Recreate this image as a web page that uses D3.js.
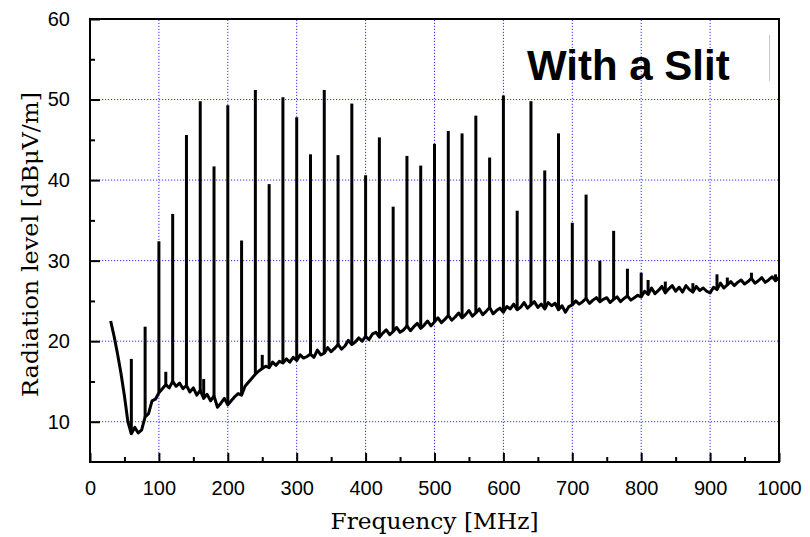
<!DOCTYPE html>
<html>
<head>
<meta charset="utf-8">
<script src="https://cdn.jsdelivr.net/npm/d3@7"></script>
<style>
  body { margin: 0; background: #fff; }
  svg { display: block; }
</style>
</head>
<body>
<div class="chartwrap"></div>
<script>
var width = 810, height = 537;
var margin = {top: 19, left: 90, right: 31, bottom: 75};

// noise floor, sampled every 5 MHz from 30 to 1000 MHz
var baseStart = 30, baseStep = 5;
var baseLevel = [
    22.5, 20.6, 18.4, 16.0, 13.2, 10.0, 8.5, 9.3, 8.6, 9.0, 10.6, 11.0, 12.6, 12.8,
    13.6, 14.1, 14.6, 14.2, 15.0, 14.4, 14.8, 14.1, 14.5, 13.7, 14.2, 13.3, 13.9, 12.9, 13.4, 12.6, 13.2, 11.8, 12.3, 12.9,
    12.1, 12.6, 13.1, 13.5, 13.3, 14.4, 14.9, 15.4, 15.9, 16.3, 16.6, 16.9, 16.7, 17.4, 17.0, 17.5, 17.3, 17.8, 17.4, 18.0,
    17.6, 18.3, 17.9, 18.1, 18.4, 18.0, 18.9, 18.3, 18.5, 19.2, 18.7, 19.1, 19.6, 19.0, 19.4, 20.1, 19.6, 19.9, 20.4, 20.0,
    20.6, 20.2, 20.9, 21.1, 20.5, 21.0, 21.4, 20.8, 21.2, 21.7, 21.1, 21.4, 21.9, 21.3, 21.8, 22.2, 21.6, 22.0, 22.5, 21.9,
    22.4, 22.9, 22.3, 22.7, 23.2, 22.6, 23.0, 23.5, 22.9, 23.3, 23.8, 23.1, 23.5, 24.0, 23.3, 23.7, 24.2, 23.4, 23.8, 24.1,
    23.6, 24.3, 24.0, 24.6, 23.9, 24.2, 24.8, 24.1, 24.5, 24.9, 24.2, 24.6, 24.0, 24.8, 24.4, 24.7, 23.9, 24.4, 23.6, 24.3,
    24.5, 25.0, 24.6, 24.9, 25.3, 24.7, 25.1, 25.4, 24.9, 25.2, 25.4, 24.8, 25.2, 25.5, 24.9, 25.3, 25.6, 25.1, 25.4, 25.7,
    25.5, 26.2, 25.8, 26.6, 25.9, 26.3, 26.8, 26.0, 26.5, 26.9, 26.2, 26.7, 26.1, 26.9, 26.4, 26.1, 26.8, 26.3, 26.6, 26.2,
    26.0, 26.7, 26.4, 27.2, 26.6, 27.0, 27.4, 26.9, 27.3, 27.6, 27.1, 27.4, 27.8, 27.2, 27.5, 27.9, 27.3, 27.6, 28.0, 27.5,
    27.9
];

// spikes (harmonics every 20 MHz plus a few small spurs)
var peakFreq = [60, 80, 100, 120, 140, 160, 180, 200, 220, 240, 260, 280, 300, 320, 340, 360, 380, 400,
    420, 440, 460, 480, 500, 520, 540, 560, 580, 600, 620, 640, 660, 680, 700, 720, 740, 760, 780, 800,
    110, 165, 250, 810, 835, 875, 910, 925, 960, 995];
var peakLevel = [17.8, 21.8, 32.4, 35.8, 45.6, 49.8, 41.7, 49.3, 32.5, 51.2, 39.5, 50.3, 47.8, 43.2, 51.2, 43.1, 49.5, 40.6,
    45.3, 36.7, 43.0, 41.8, 44.5, 46.1, 45.8, 48.0, 42.8, 50.5, 36.2, 49.8, 41.2, 45.8, 34.7, 38.2, 30.0, 33.7, 29.0, 28.5,
    16.2, 15.3, 18.3, 27.6, 27.4, 27.2, 28.3, 27.9, 28.5, 28.3];

var xTicks = [0, 100, 200, 300, 400, 500, 600, 700, 800, 900, 1000];
var yTicks = [10, 20, 30, 40, 50, 60];

var pw = width - margin.left - margin.right,
    ph = height - margin.top - margin.bottom;

var svg = d3.select(".chartwrap").append("svg")
    .attr("width", width)
    .attr("height", height);

var x = d3.scaleLinear()
    .domain([0, 1000])
    .range([margin.left, margin.left + pw]);

var y = d3.scaleLinear()
    .domain([5, 60])
    .range([margin.top + ph, margin.top]);

var trace = baseLevel.map(function(d, i) {
    return {f: baseStart + i*baseStep, v: d};
});

function baseAt(f) {
    return baseLevel[Math.round((f - baseStart)/baseStep)];
}

// grid
var grid = svg.append("g").attr("class", "grid");
grid.selectAll(".gx")
    .data(xTicks.slice(1, -1))
    .enter().append("line")
    .attr("x1", function(d) { return x(d); })
    .attr("x2", function(d) { return x(d); })
    .attr("y1", y(5))
    .attr("y2", y(60))
    .attr("stroke", "#2f2fff")
    .attr("stroke-width", 1)
    .attr("stroke-dasharray", "1.2,1.8");
grid.selectAll(".gy")
    .data(yTicks.slice(0, -1))
    .enter().append("line")
    .attr("y1", function(d) { return y(d); })
    .attr("y2", function(d) { return y(d); })
    .attr("x1", x(0))
    .attr("x2", x(1000))
    .attr("stroke", "#2f2fff")
    .attr("stroke-width", 1)
    .attr("stroke-dasharray", "1.2,1.8");

// axes, ticks pointing inward
var xAxis = d3.axisBottom(x).tickValues(xTicks).tickSize(-9).tickPadding(19).tickFormat(d3.format("d"));
var xMinor = d3.axisBottom(x).tickValues(d3.range(50, 1000, 100)).tickSize(-5).tickFormat("");
var yAxis = d3.axisLeft(y).tickValues(yTicks).tickSize(-10).tickPadding(20).tickFormat(d3.format("d"));
var yMinor = d3.axisLeft(y).tickValues(d3.range(15, 60, 10)).tickSize(-5).tickFormat("");

function customAxis(g) {
    g.select(".domain").remove();
    g.selectAll(".tick line").attr("stroke", "#000").attr("stroke-width", 2);
    g.selectAll(".tick text")
        .attr("fill", "#000")
        .style("font-family", "'Liberation Sans', Arial, sans-serif")
        .style("font-size", "20px");
}

svg.append("g")
    .attr("transform", "translate(0," + y(5) + ")")
    .call(xAxis).call(customAxis);
svg.append("g")
    .attr("transform", "translate(0," + y(5) + ")")
    .call(xMinor).call(customAxis);
svg.append("g")
    .attr("transform", "translate(" + x(0) + ",0)")
    .call(yAxis).call(customAxis);
svg.append("g")
    .attr("transform", "translate(" + x(0) + ",0)")
    .call(yMinor).call(customAxis);

// data
var line = d3.line()
    .x(function(d) { return x(d.f); })
    .y(function(d) { return y(d.v); });

svg.append("path")
    .datum(trace)
    .attr("fill", "none")
    .attr("stroke", "#000")
    .attr("stroke-width", 3)
    .attr("stroke-linejoin", "round")
    .attr("d", line);

svg.selectAll(".peak")
    .data(peakFreq)
    .enter().append("line")
    .attr("class", "peak")
    .attr("x1", function(d) { return x(d); })
    .attr("x2", function(d) { return x(d); })
    .attr("y1", function(d) { return y(baseAt(d)); })
    .attr("y2", function(d, i) { return y(peakLevel[i]); })
    .attr("stroke", "#000")
    .attr("stroke-width", 3);

// frame
svg.append("rect")
    .attr("x", x(0))
    .attr("y", y(60))
    .attr("width", pw)
    .attr("height", ph)
    .attr("fill", "none")
    .attr("stroke", "#000")
    .attr("stroke-width", 2);

// labels
svg.append("text")
    .attr("x", x(500))
    .attr("y", 529)
    .attr("text-anchor", "middle")
    .style("font-family", "'DejaVu Serif', serif")
    .style("font-size", "23px")
    .attr("textLength", 208)
    .attr("lengthAdjust", "spacingAndGlyphs")
    .text("Frequency [MHz]");

svg.append("text")
    .attr("transform", "translate(38," + (y(32.5) + 4) + ") rotate(-90)")
    .attr("text-anchor", "middle")
    .style("font-family", "'DejaVu Serif', serif")
    .style("font-size", "23px")
    .attr("textLength", 305)
    .attr("lengthAdjust", "spacingAndGlyphs")
    .text("Radiation level [dBμV/m]");

svg.append("text")
    .attr("x", 527)
    .attr("y", 80)
    .style("font-family", "'Liberation Sans', Arial, sans-serif")
    .style("font-weight", "bold")
    .style("font-size", "42px")
    .text("With a Slit");

svg.append("line")
    .attr("x1", 769.5).attr("x2", 769.5)
    .attr("y1", 35).attr("y2", 81)
    .attr("stroke", "#c8c8c8")
    .attr("stroke-width", 1);
</script>
</body>
</html>
